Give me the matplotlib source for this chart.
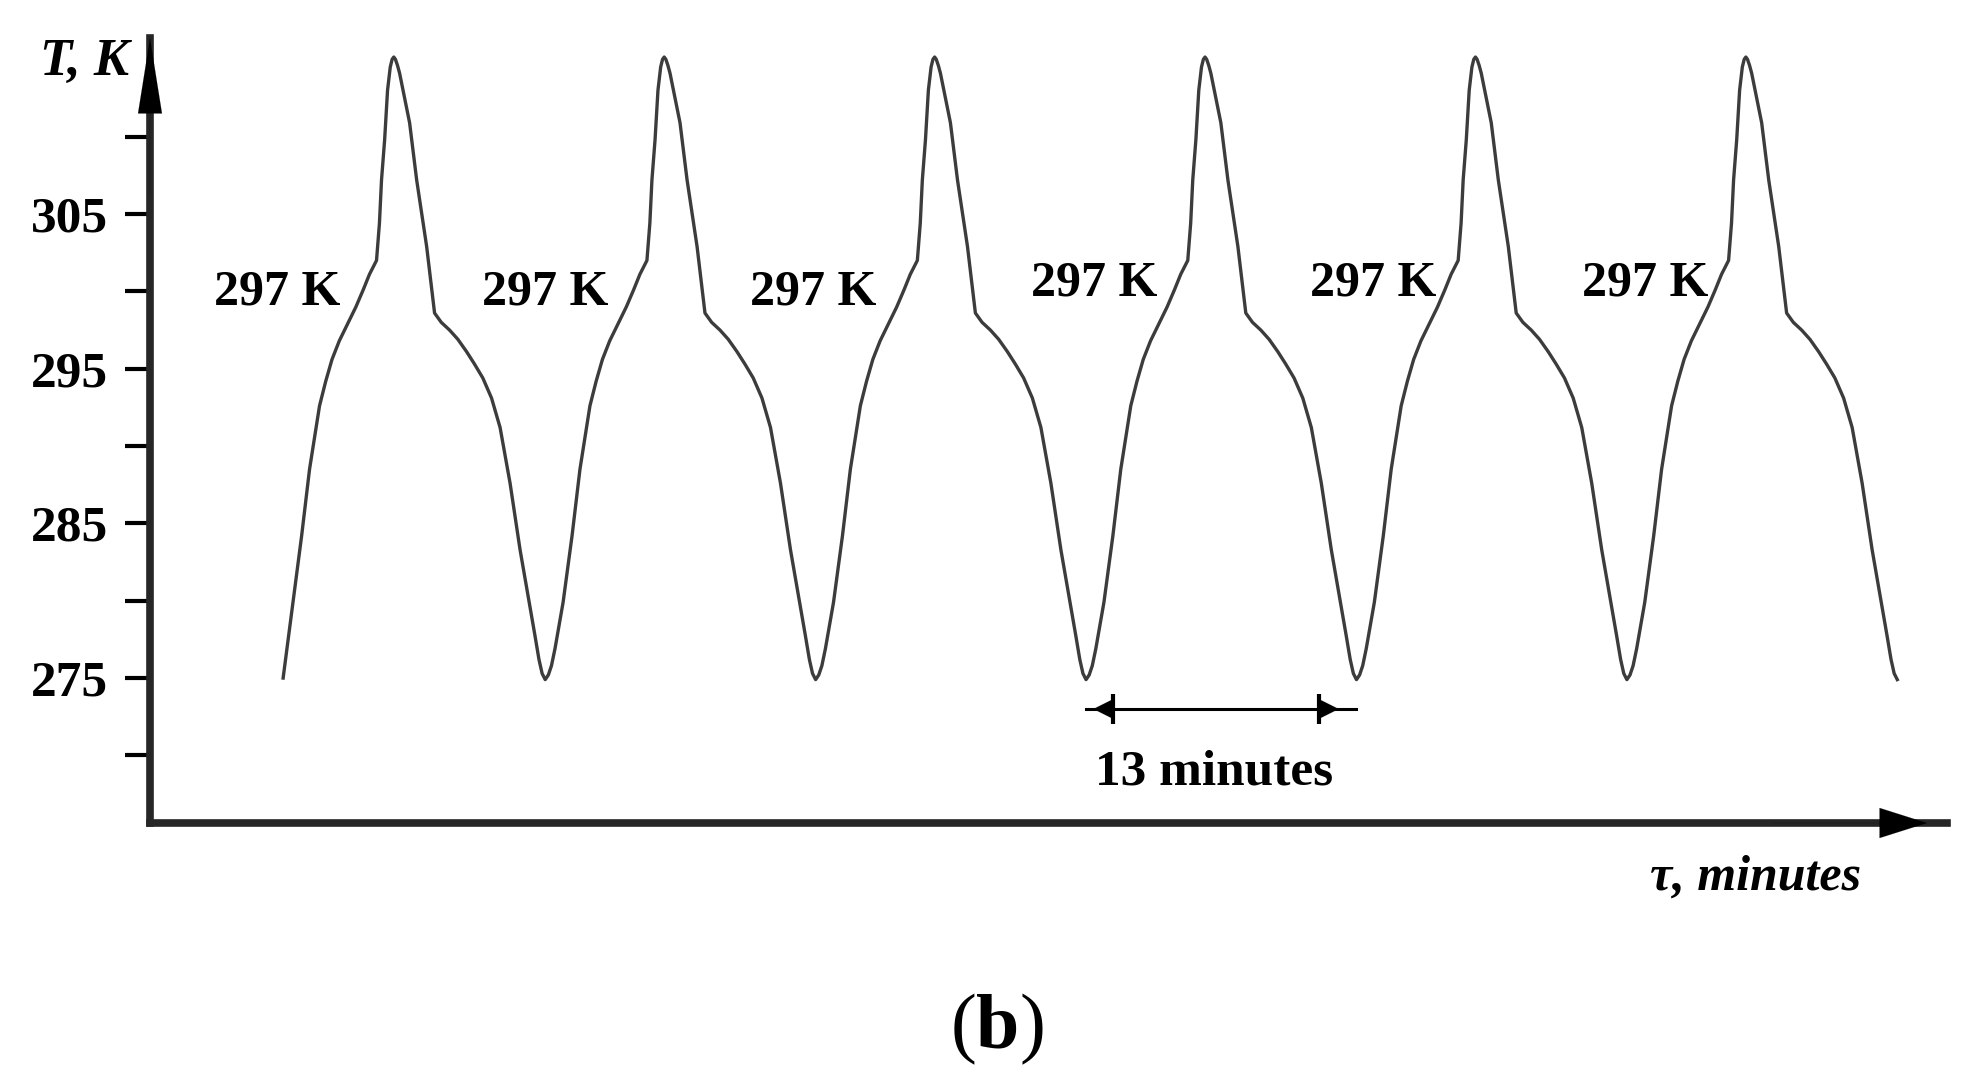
import numpy as np
import matplotlib
matplotlib.use('Agg')
import matplotlib.pyplot as plt

plt.rcParams['font.family'] = ['Liberation Serif', 'DejaVu Serif']
plt.rcParams['mathtext.fontset'] = 'custom'
plt.rcParams['mathtext.rm'] = 'Liberation Serif'
plt.rcParams['mathtext.bf'] = 'Liberation Serif:bold'

# one cycle: minutes after a trough, temperature (K)
cycle_t = [0.0, 0.15, 0.3, 0.47, 0.86, 1.29, 1.67, 2.15, 2.45, 2.75, 3.1, 3.5,
           3.9, 4.25, 4.55, 4.89, 5.03, 5.13, 5.28, 5.42, 5.55, 5.64, 5.72, 5.8,
           5.9, 6.0, 6.48, 6.82, 7.3, 7.68, 8.0, 8.4, 8.8, 9.22, 9.6, 10.0,
           10.42, 10.83, 11.31, 11.79, 12.27, 12.5, 12.7, 12.85, 13.0]
cycle_T = [274.9, 275.2, 275.8, 276.9, 279.9, 284.2, 288.5, 292.6, 294.2, 295.6, 296.8, 297.9,
           299.0, 300.1, 301.1, 302.0, 304.4, 307.2, 309.8, 313.0, 314.5, 315.0, 315.15, 315.0,
           314.6, 314.1, 310.9, 307.2, 302.9, 298.6, 298.0, 297.5, 296.9, 296.1, 295.3, 294.4,
           293.1, 291.2, 287.6, 283.3, 279.6, 277.8, 276.2, 275.3, 274.9]

# the curve starts part-way up the first rise
start_t, start_T = 6.4, 275.0
trough_t = [6, 19, 32, 45, 58, 71]

# "297 K" labels
lab_t = [6.13, 19.0, 31.9, 45.4, 58.8, 71.9]
lab_T = [299.9, 299.9, 299.9, 300.5, 300.5, 300.5]

yticks_major = [275, 285, 295, 305]
yticks_minor = [270, 280, 290, 300, 310]

# 13 minutes dimension
dim_from, dim_to = 45, 58
dim_T = 273.0

t_all = [start_t]
T_all = [start_T]
for k, t0 in enumerate(trough_t):
    for dt, T in zip(cycle_t, cycle_T):
        if dt == 0 or (k == 0 and dt < 1.0):
            continue
        t_all.append(t0 + dt)
        T_all.append(T)

fig = plt.figure(figsize=(19.8, 10.89), dpi=100)
ax = fig.add_axes([150/1980, (1089-823)/1089, (1947-150)/1980, (823-38)/1089])

ax.plot(t_all, T_all, color='#3c3c3c', lw=2.4, solid_joinstyle='round')

ax.set_xlim(0, 86.39)
ax.set_ylim(265.63, 316.38)

for s in ['top', 'right']:
    ax.spines[s].set_visible(False)
for s in ['left', 'bottom']:
    ax.spines[s].set_linewidth(5.5)
    ax.spines[s].set_color('#262626')

ax.set_xticks([])
ax.set_yticks(yticks_major)
ax.set_yticks(yticks_minor, minor=True)
ax.set_yticklabels([str(v) for v in yticks_major])
ax.tick_params(axis='y', which='both', direction='out', length=18, width=3, color='black')
ax.tick_params(axis='y', which='major', pad=12, labelsize=37)
for lab in ax.get_yticklabels():
    lab.set_fontweight('bold')

# axis arrows
ax.annotate('', xy=(0, 1), xytext=(0, 0.8), xycoords='axes fraction',
            arrowprops=dict(arrowstyle='-|>,head_length=5.4,head_width=0.86', mutation_scale=10,
                            color='black', lw=0.1, shrinkA=0, shrinkB=0))
ax.annotate('', xy=(85.43, 0), xytext=(78, 0), xycoords=('data', 'axes fraction'),
            arrowprops=dict(arrowstyle='-|>,head_length=3.4,head_width=1.08', mutation_scale=10,
                            color='black', lw=0.1, shrinkA=0, shrinkB=0))

# 297 K labels
for x, y in zip(lab_t, lab_T):
    ax.text(x, y, '297 K', fontsize=36, fontweight='bold', ha='center', va='center')

# 13 minutes dimension
ax.plot([dim_from, dim_to], [dim_T, dim_T], color='black', lw=2.2)
ax.annotate('', xy=(45.35, dim_T), xytext=(57.15, dim_T),
            arrowprops=dict(arrowstyle='<|-|>,head_length=1.44,head_width=0.72', mutation_scale=10,
                            color='black', lw=0.1, shrinkA=0, shrinkB=0))
ax.plot([46.3, 56.2], [dim_T, dim_T], ls='none', marker='|', markersize=22, mew=3, color='black')
ax.text(51.15, 268.9, '13 minutes', fontsize=37, fontweight='bold', ha='center', va='center')

fig.text(84/1980, 1 - 62/1089, 'T, K', fontsize=38, fontweight='bold', style='italic',
         ha='center', va='center')
fig.text(1756/1980, 1 - 878/1089, 'τ, minutes', fontsize=36, fontweight='bold', style='italic',
         ha='center', va='center')
fig.text(997/1980, 1 - 1029/1089, r'$(\mathbf{b})$', fontsize=56, ha='center', va='center')

fig.savefig('out.png', dpi=100)
